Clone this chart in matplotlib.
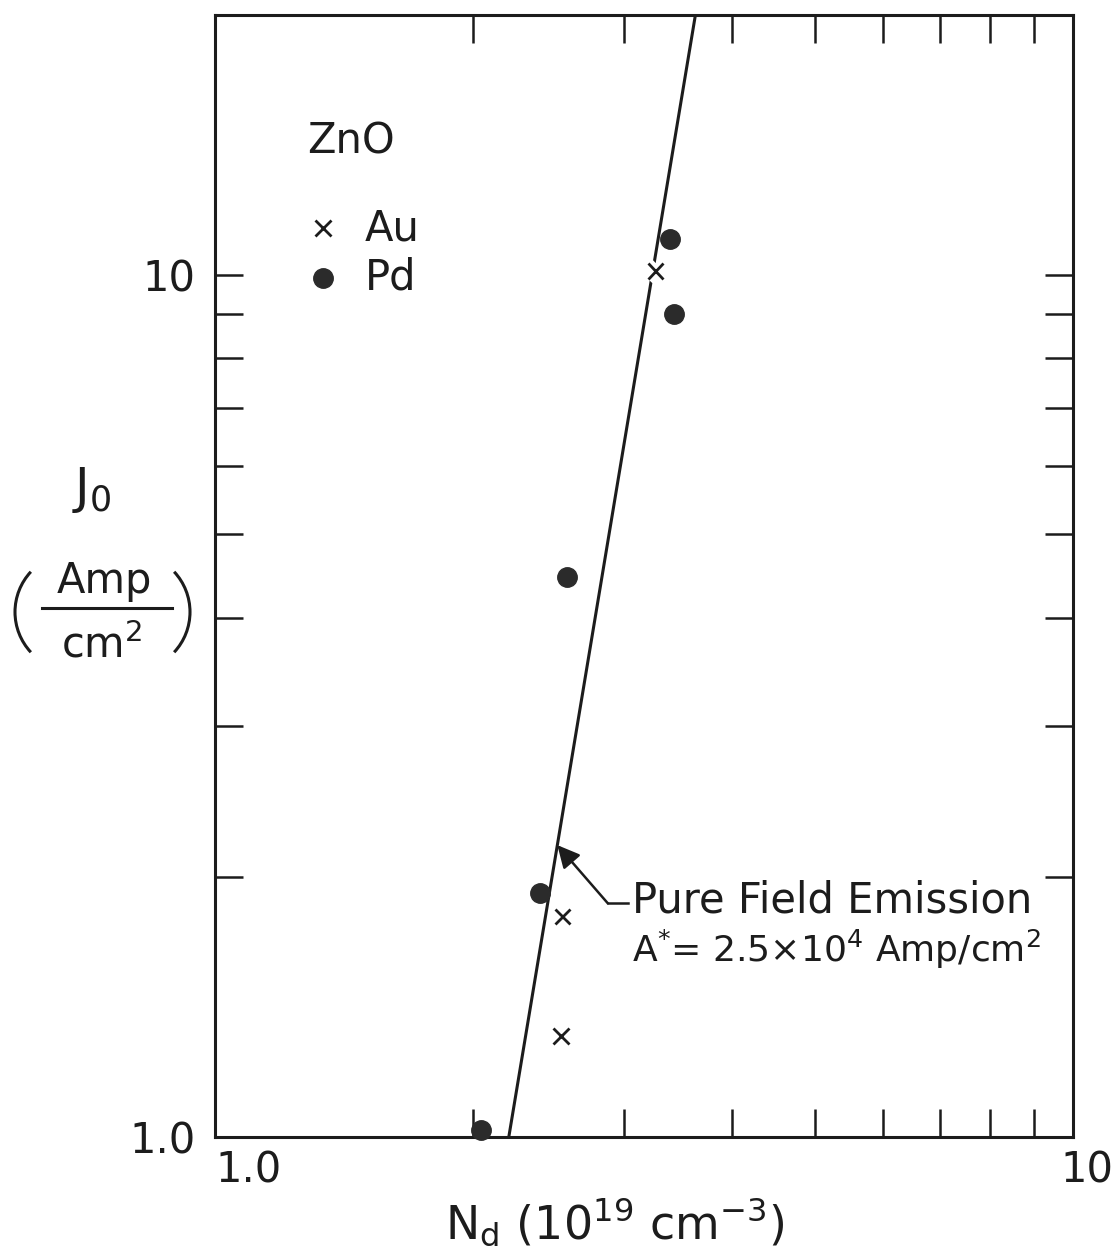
import matplotlib
matplotlib.use("Agg")
import matplotlib.pyplot as plt
import matplotlib.patheffects as pe
import matplotlib.transforms as mtransforms
from matplotlib.patches import Arc
from matplotlib.lines import Line2D
from matplotlib.ticker import LogLocator, NullFormatter
import numpy as np

plt.rcParams['font.family'] = 'DejaVu Sans'
plt.rcParams['mathtext.default'] = 'regular'

ink = '#1c1c1c'

# ZnO contacts: donor density (1e19 cm^-3) vs J0 (Amp/cm^2)
au_nd = [3.26, 2.54, 2.53]
au_j = [10.1, 1.80, 1.31]
pd_nd = [2.04, 2.39, 2.57, 3.39, 3.43]
pd_j = [1.02, 1.92, 4.46, 11.0, 9.0]

# pure field emission prediction, A* = 2.5e4 Amp/cm^2
fe_nd = [2.20, 3.63]
fe_j = [1.0, 20.0]

xtick_vals = [1, 10]
xtick_text = ['1.0', '10']
ytick_vals = [1, 10]
ytick_text = ['1.0', '10']

W, H = 1114, 1260


def fxy(x, y):
    # pixel position (from top-left) -> figure fraction
    return x / W, 1 - y / H


fig = plt.figure(figsize=(W / 100, H / 100), dpi=100)
ax = fig.add_axes([215 / W, 123 / H, 858 / W, 1122 / H])
ax.set_xscale('log')
ax.set_yscale('log')
ax.set_xlim(1, 10)
ax.set_ylim(1, 20)

ax.plot(fe_nd, fe_j, color=ink, lw=2.2, zorder=2)
ax.plot(au_nd, au_j, 'x', ms=11, mew=2.0, color=ink, zorder=3,
        path_effects=[pe.Stroke(linewidth=8, foreground='white'), pe.Normal()])
ax.plot(pd_nd, pd_j, 'o', ms=14, color='#2b2b2b', mec='#2b2b2b', zorder=4,
        clip_on=False)

# ticks: all inward, same length, on all four sides
ax.set_xticks(xtick_vals, labels=xtick_text, ha='left')
ax.set_yticks(ytick_vals, labels=ytick_text)
for axis in (ax.xaxis, ax.yaxis):
    axis.set_minor_locator(LogLocator(base=10, subs=range(2, 10)))
    axis.set_minor_formatter(NullFormatter())
ax.tick_params(which='both', direction='in', length=20, width=1.8,
               top=True, right=True, colors=ink, labelsize=30)
ax.tick_params(axis='x', pad=9)
ax.tick_params(axis='y', pad=14)
for s in ax.spines.values():
    s.set_linewidth(2.2)
    s.set_color(ink)

# keep the right-hand "10" inside the figure
lab10 = ax.get_xticklabels()[1]
lab10.set_horizontalalignment('center')
lab10.set_transform(lab10.get_transform() +
                    mtransforms.ScaledTranslation(0.14, 0, fig.dpi_scale_trans))

# key
ax.text(0.107, 0.887, 'ZnO', transform=ax.transAxes, fontsize=30,
        color=ink, va='center', ha='left')
ax.plot([0.126], [0.810], 'x', ms=11, mew=2.0, color=ink,
        transform=ax.transAxes)
ax.plot([0.126], [0.766], 'o', ms=14, color='#2b2b2b',
        transform=ax.transAxes)
ax.text(0.175, 0.810, 'Au', transform=ax.transAxes, fontsize=30,
        color=ink, va='center', ha='left')
ax.text(0.175, 0.766, 'Pd', transform=ax.transAxes, fontsize=30,
        color=ink, va='center', ha='left')

# annotation for the field emission line
tip_j = 2.18
tip_nd = 10 ** np.interp(np.log10(tip_j), np.log10(fe_j), np.log10(fe_nd))
ax.plot([3.03, 2.87], [1.866, 1.866], color=ink, lw=1.8)
ax.annotate('', xy=(tip_nd, tip_j), xytext=(2.87, 1.866),
            arrowprops=dict(arrowstyle='-|>', lw=1.8, color=ink,
                            mutation_scale=34, shrinkA=0, shrinkB=0))
ax.text(3.06, 1.88, 'Pure Field Emission', fontsize=30, color=ink,
        ha='left', va='center')
ax.text(3.06, 1.65, r'A$^{*}$= 2.5$\times$10$^4$ Amp/cm$^2$', fontsize=26,
        color=ink, ha='left', va='center')

# y label: J0 (Amp / cm^2)
fig.text(*fxy(92, 490), r'J$_0$', fontsize=36, color=ink,
         ha='center', va='center')
fig.text(*fxy(104, 581), 'Amp', fontsize=30, color=ink,
         ha='center', va='center')
fig.text(*fxy(102, 645), r'cm$^2$', fontsize=30, color=ink,
         ha='center', va='center')
x0, y0 = fxy(42, 608)
x1, _ = fxy(172, 608)
fig.add_artist(Line2D([x0, x1], [y0, y0], transform=fig.transFigure,
                      lw=2.2, color=ink))
fig.add_artist(Arc((0.74, (H - 612) / 100), 1.18, 1.18, theta1=137,
                   theta2=223, transform=fig.dpi_scale_trans, lw=2.2,
                   color=ink))
fig.add_artist(Arc((1.31, (H - 612) / 100), 1.18, 1.18, theta1=-43,
                   theta2=43, transform=fig.dpi_scale_trans, lw=2.2,
                   color=ink))

# x label
fig.text(*fxy(615, 1222), r'N$_d$ (10$^{19}$ cm$^{-3}$)', fontsize=33,
         color=ink, ha='center', va='center')

fig.savefig('out.png', dpi=100)
